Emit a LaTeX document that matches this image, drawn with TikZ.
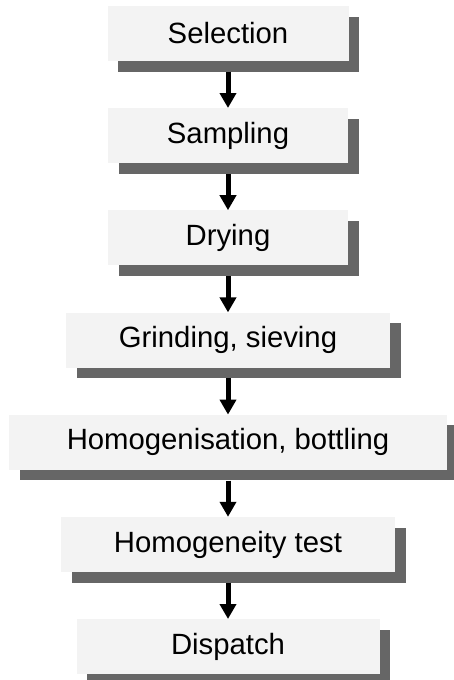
\documentclass[tikz,border=0pt]{standalone}
\usepackage{fontspec}
\setmainfont{Liberation Sans}
\usetikzlibrary{arrows.meta, positioning, shadows}
\definecolor{boxgray}{HTML}{F3F3F3}
\definecolor{shadowgray}{HTML}{666666}

\begin{document}
\begin{tikzpicture}[x=1pt, y=1pt]
	\tikzset {node distance=46.8pt,
		stepbox/.style={fill=boxgray, minimum height=55pt, inner sep=0pt, font=\fontsize{29.3}{34}\selectfont,
			drop shadow={shadow xshift=10.5pt, shadow yshift=-10.5pt, fill=shadowgray, opacity=1}},
		flow/.style={line width=5pt, -{Triangle[width=16pt, length=15pt]}, shorten <=10.5pt} }

	\useasboundingbox (0,0) rectangle (454,-680);

	\node[stepbox, minimum width=241pt] (sel) at (228,-33.5) {Selection};
	\node[stepbox, minimum width=240pt, below=of sel] (samp) {Sampling};
	\node[stepbox, minimum width=240pt, below=of samp] (dry) {Drying};
	\node[stepbox, minimum width=324pt, below=of dry] (grind) {Grinding, sieving};
	\node[stepbox, minimum width=438pt, below=of grind] (homog) {Homogenisation, bottling};
	\node[stepbox, minimum width=334pt, below=of homog] (test) {Homogeneity test};
	\node[stepbox, minimum width=303pt, below=of test] (disp) {Dispatch};

	\draw[flow]
		(sel) edge (samp)
		(samp) edge (dry)
		(dry) edge (grind)
		(grind) edge (homog)
		(homog) edge (test)
		(test) edge (disp);
\end{tikzpicture}
\end{document}
